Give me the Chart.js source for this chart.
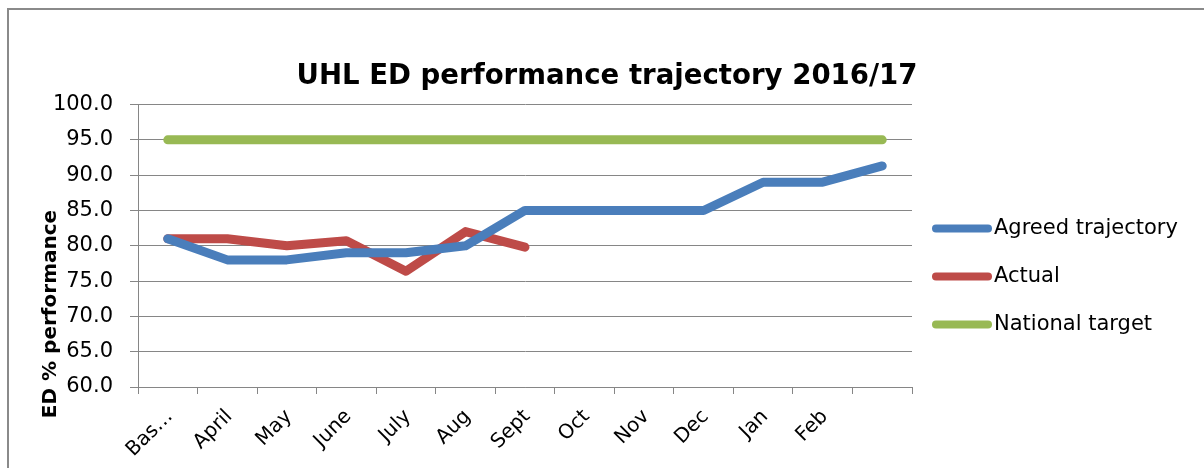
<!DOCTYPE html>
<html>
<head>
<meta charset="utf-8">
<script src="https://cdn.jsdelivr.net/npm/chart.js@4/dist/chart.umd.min.js"></script>
<style>
  html, body { margin: 0; padding: 0; background: #fff; overflow: hidden; }
  #frame { position: absolute; left: 7px; top: 8px; width: 1400px; height: 700px;
           border-left: 2px solid #8a8a8a; border-top: 2px solid #8a8a8a; }
  #wrap { position: absolute; left: 0; top: 0; width: 1204px; height: 468px; }
</style>
</head>
<body>
<div id="frame"></div>
<div id="wrap"><canvas id="c" width="1204" height="468"></canvas></div>
<script>
const categories = ['Bas…', 'April', 'May', 'June', 'July', 'Aug', 'Sept', 'Oct', 'Nov', 'Dec', 'Jan', 'Feb', ''];
const agreedTrajectory = [81.0, 78.0, 78.0, 79.0, 79.0, 80.0, 85.0, 85.0, 85.0, 85.0, 89.0, 89.0, 91.3];
const actual = [81.0, 81.0, 80.0, 80.7, 76.4, 82.0, 79.8, null, null, null, null, null, null];
const nationalTarget = [95, 95, 95, 95, 95, 95, 95, 95, 95, 95, 95, 95, 95];
const yTicks = { min: 60, max: 100, step: 5 };

const FONT = "'DejaVu Sans', sans-serif";
const GRID = '#868686';

const customLegend = {
  id: 'customLegend',
  afterDraw(chart) {
    const ctx = chart.ctx, a = chart.chartArea;
    ctx.save();
    chart.data.datasets.forEach((ds, i) => {
      const y = a.top + 124 + i * 48;
      ctx.strokeStyle = ds.borderColor;
      ctx.lineWidth = 8;
      ctx.lineCap = 'round';
      ctx.beginPath();
      ctx.moveTo(a.right + 24, y);
      ctx.lineTo(a.right + 76, y);
      ctx.stroke();
      ctx.fillStyle = '#000';
      ctx.font = "21px " + FONT;
      ctx.textAlign = 'left';
      ctx.textBaseline = 'middle';
      ctx.fillText(ds.label, a.right + 82, y);
    });
    ctx.restore();
  }
};

const yTitle = {
  id: 'yTitle',
  afterDraw(chart) {
    const ctx = chart.ctx, a = chart.chartArea;
    ctx.save();
    ctx.translate(51, a.bottom - 73);
    ctx.rotate(-Math.PI / 2);
    ctx.fillStyle = '#000';
    ctx.font = "bold 20px " + FONT;
    ctx.textAlign = 'center';
    ctx.textBaseline = 'middle';
    ctx.fillText('ED % performance', 0, 0);
    ctx.restore();
  }
};

const lineStyle = { borderWidth: 9, pointRadius: 0, pointHoverRadius: 0, tension: 0,
                    borderCapStyle: 'round', borderJoinStyle: 'round', fill: false };

new Chart(document.getElementById('c'), {
  type: 'line',
  data: {
    labels: categories,
    datasets: [
      Object.assign({ label: 'Agreed trajectory', data: agreedTrajectory, borderColor: '#4a7ebb', backgroundColor: '#4a7ebb' }, lineStyle),
      Object.assign({ label: 'Actual', data: actual, borderColor: '#be4b48', backgroundColor: '#be4b48' }, lineStyle),
      Object.assign({ label: 'National target', data: nationalTarget, borderColor: '#98b954', backgroundColor: '#98b954' }, lineStyle)
    ]
  },
  options: {
    responsive: false,
    animation: false,
    layout: { padding: { left: 10, right: 0, top: 0, bottom: 0 } },
    plugins: {
      legend: { display: false },
      tooltip: { enabled: false },
      title: {
        display: true,
        text: 'UHL ED performance trajectory 2016/17',
        color: '#000',
        font: { family: FONT, size: 27.6, weight: 'bold', lineHeight: 1.2 },
        padding: { top: 60, bottom: 11.4 }
      }
    },
    scales: {
      x: {
        offset: true,
        grid: { offset: true, drawOnChartArea: false, drawTicks: true, tickLength: 7, color: GRID },
        border: { color: GRID, width: 1 },
        ticks: { color: '#000', font: { family: FONT, size: 20 }, minRotation: 45, maxRotation: 45,
                 autoSkip: false, padding: 11, labelOffset: 2 },
        afterFit: (s) => { s.height = 81; }
      },
      y: {
        min: yTicks.min, max: yTicks.max,
        grid: { color: GRID, tickLength: 8 },
        border: { color: GRID, width: 1 },
        ticks: { stepSize: yTicks.step, color: '#000', font: { family: FONT, size: 21 }, padding: 17,
                 callback: (v) => Number(v).toFixed(1) },
        afterFit: (s) => { s.width = 128; }
      },
      yRight: {
        position: 'right',
        display: true,
        grid: { display: false },
        border: { display: false },
        ticks: { display: false },
        afterFit: (s) => { s.width = 292; }
      }
    }
  },
  plugins: [customLegend, yTitle]
});
</script>
</body>
</html>
